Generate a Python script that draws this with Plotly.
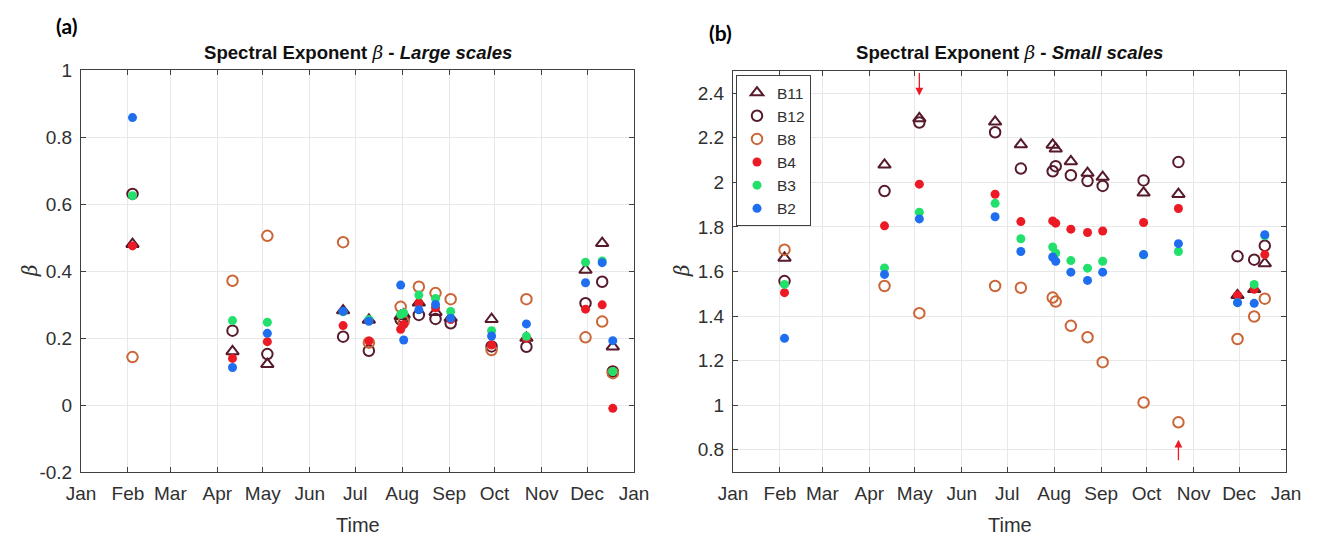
import plotly.graph_objects as go

# --- acquisition dates (same for both panels) ---
dates = ['2017-02-04', '2017-04-11', '2017-05-04', '2017-06-23', '2017-07-10',
         '2017-07-31', '2017-08-02', '2017-08-12', '2017-08-23', '2017-09-02',
         '2017-09-29', '2017-10-22', '2017-11-30', '2017-12-11', '2017-12-18']

# --- (a) large scales ---
b11_large = [0.48, 0.16, 0.122, 0.282, 0.254, 0.265, 0.27, 0.305, 0.277, 0.26, 0.256, 0.20, 0.403, 0.483, 0.174]
b12_large = [0.63, 0.222, 0.152, 0.204, 0.162, 0.255, 0.26, 0.269, 0.257, 0.244, 0.175, 0.174, 0.304, 0.368, 0.10]
b8_large = [0.143, 0.371, 0.505, 0.486, 0.186, 0.293, 0.249, 0.353, 0.334, 0.316, 0.164, 0.316, 0.202, 0.249, 0.095]
b4_large = [0.475, 0.139, 0.189, 0.237, 0.191, 0.226, 0.24, 0.305, 0.29, 0.255, 0.179, 0.20, 0.286, 0.299, -0.01]
b3_large = [0.625, 0.252, 0.247, 0.278, 0.255, 0.27, 0.275, 0.328, 0.318, 0.279, 0.222, 0.205, 0.426, 0.43, 0.10]
b2_large = [0.858, 0.112, 0.214, 0.28, 0.25, 0.358, 0.194, 0.284, 0.30, 0.259, 0.206, 0.242, 0.365, 0.425, 0.192]

# --- (b) small scales ---
b11_small = [1.661, 2.079, 2.287, 2.272, 2.17, 2.168, 2.151, 2.094, 2.042, 2.024, 1.953, 1.947, 1.493, 1.52, 1.636]
b12_small = [1.557, 1.961, 2.269, 2.225, 2.062, 2.05, 2.073, 2.032, 2.006, 1.984, 2.009, 2.091, 1.668, 1.653, 1.716]
b8_small = [1.698, 1.535, 1.413, 1.535, 1.527, 1.483, 1.465, 1.356, 1.305, 1.193, 1.012, 0.923, 1.297, 1.398, 1.478]
b4_small = [1.505, 1.805, 1.992, 1.947, 1.824, 1.827, 1.817, 1.79, 1.775, 1.782, 1.82, 1.883, 1.493, 1.52, 1.676]
b3_small = [1.542, 1.616, 1.866, 1.906, 1.747, 1.71, 1.683, 1.649, 1.615, 1.646, 1.675, 1.69, 1.46, 1.542, 1.76]
b2_small = [1.30, 1.587, 1.836, 1.846, 1.69, 1.665, 1.646, 1.597, 1.56, 1.597, 1.676, 1.725, 1.46, 1.457, 1.765]

band_names = ['B11', 'B12', 'B8', 'B4', 'B3', 'B2']
large = [b11_large, b12_large, b8_large, b4_large, b3_large, b2_large]
small = [b11_small, b12_small, b8_small, b4_small, b3_small, b2_small]

yticks_large = [-0.2, 0, 0.2, 0.4, 0.6, 0.8, 1]
yticks_small = [0.8, 1, 1.2, 1.4, 1.6, 1.8, 2, 2.2, 2.4]

MAROON = '#561a2b'
styles = {
    'B11': dict(symbol='triangle-up-open', size=11, color=MAROON, line=dict(width=2, color=MAROON)),
    'B12': dict(symbol='circle-open', size=10.5, color=MAROON, line=dict(width=2, color=MAROON)),
    'B8': dict(symbol='circle-open', size=10.5, color='#cc6535', line=dict(width=2, color='#cc6535')),
    'B4': dict(symbol='circle', size=9, color='#ec1a24', line=dict(width=0)),
    'B3': dict(symbol='circle', size=9, color='#22e06c', line=dict(width=0)),
    'B2': dict(symbol='circle', size=9, color='#1f6ef0', line=dict(width=0)),
}

W, H = 1317, 537
# outer plotting box in pixels
L, R, T, B = 81, 1286, 70, 472
IW, IH = R - L, B - T
FONT = 'Liberation Sans, Arial, sans-serif'
TXT = '#303030'

def px(x): return (x - L) / IW
def py(y): return 1 - (y - T) / IH

fig = go.Figure()
for name, ys in zip(band_names, large):
    fig.add_trace(go.Scatter(x=dates, y=ys, mode='markers', name=name, marker=styles[name],
                             xaxis='x', yaxis='y', showlegend=False))
for name, ys in zip(band_names, small):
    fig.add_trace(go.Scatter(x=dates, y=ys, mode='markers', name=name, marker=styles[name],
                             xaxis='x2', yaxis='y2', showlegend=True))

xcommon = dict(type='date', range=['2017-01-01', '2018-01-01'], dtick='M1', tickformat='%b',
               showgrid=True, gridcolor='#e8e8e8', showline=True, linecolor='#404040', linewidth=1,
               mirror='ticks', ticks='inside', ticklen=5, tickcolor='#404040', automargin=False,
               tickfont=dict(family=FONT, size=19, color=TXT), zeroline=False, ticklabelstandoff=4)
ycommon = dict(showgrid=True, gridcolor='#e8e8e8', showline=True, linecolor='#404040', linewidth=1,
               mirror='ticks', ticks='inside', ticklen=5, tickcolor='#404040', automargin=False,
               tickfont=dict(family=FONT, size=19, color=TXT), zeroline=False, ticklabelstandoff=4)

fig.update_layout(
    width=W, height=H, margin=dict(l=L, r=W - R, t=T, b=H - B, autoexpand=False),
    paper_bgcolor='white', plot_bgcolor='white',
    xaxis=dict(domain=[px(81), px(634)], anchor='y', **xcommon),
    yaxis=dict(domain=[0, 1], anchor='x', range=[-0.2, 1], tickvals=yticks_large,
               ticktext=[f'{v:g}' for v in yticks_large], **ycommon),
    xaxis2=dict(domain=[px(733), px(1286)], anchor='y2', **xcommon),
    yaxis2=dict(domain=[0, 1 - 1 / IH], anchor='x2', range=[0.7, 2.5], tickvals=yticks_small,
                ticktext=[f'{v:g}' for v in yticks_small], **ycommon),
    legend=dict(x=px(736), y=py(75), xanchor='left', yanchor='top', bgcolor='white',
                bordercolor='#404040', borderwidth=1, font=dict(family=FONT, size=15.5, color=TXT),
                tracegroupgap=0, itemwidth=30),
)

beta = '<span style="font-family:DejaVu Serif"><i>β</i></span>'

def label(x, y, text, font, angle=0):
    return dict(x=px(x), y=py(y), xref='paper', yref='paper', xanchor='center', yanchor='middle',
                showarrow=False, text=text, font=font, textangle=angle)

ann = []
for (x0, x1), lab in [((81, 634), 'Large scales'), ((733, 1286), 'Small scales')]:
    cx = (x0 + x1) / 2
    ann.append(label(cx, 52, '<b>Spectral Exponent </b>' + beta + '<b> - <i>' + lab + '</i></b>',
                     dict(family=FONT, size=18.6, color='#111111')))
    ann.append(label(cx, 525, 'Time', dict(family=FONT, size=20, color=TXT)))
    ann.append(label(x0 - 51, 271, beta, dict(family=FONT, size=20, color=TXT), angle=-90))
ann.append(label(66, 25, '<b>(a)</b>', dict(family='Lato, Open Sans, sans-serif', size=21, color='black')))
ann.append(label(720, 33, '<b>(b)</b>', dict(family='Lato, Open Sans, sans-serif', size=21, color='black')))
# red arrows marking the extreme values
ann.append(dict(x=dates[2], y=2.39, xref='x2', yref='y2', text='', showarrow=True, ax=0, ay=-24,
                arrowhead=2, arrowsize=1.2, arrowwidth=1.3, arrowcolor='#ec1a24'))
ann.append(dict(x=dates[11], y=0.845, xref='x2', yref='y2', text='', showarrow=True, ax=0, ay=22,
                arrowhead=2, arrowsize=1.2, arrowwidth=1.3, arrowcolor='#ec1a24'))
fig.update_layout(annotations=ann)

fig.write_html('out.html', config={'displayModeBar': False},
               post_script="document.body.style.margin='0';")
